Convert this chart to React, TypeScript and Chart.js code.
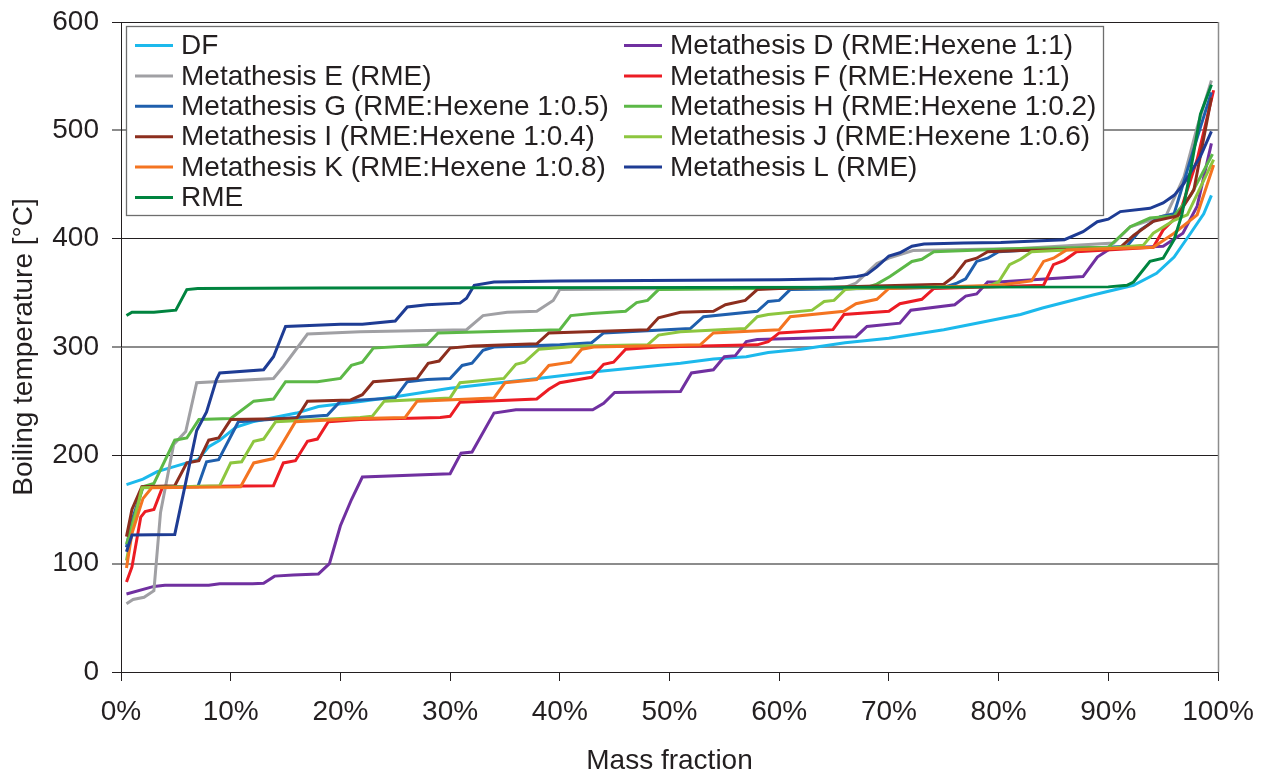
import React, { useEffect, useRef } from "react";
import { Chart, registerables } from "chart.js";

Chart.register(...registerables);

type Pt = [number, number];

// Mass fraction [%], boiling temperature [°C] (breakpoints)
const dfPoints: Pt[] = [
  [0.5, 173], [2, 178], [3.3, 185], [5, 190], [7, 196], [8, 208], [9, 214], [10.5, 226], [12, 231],
  [16, 239], [18, 245], [22, 250], [25, 254], [30, 262], [38, 271], [43, 277], [51, 285], [54, 289],
  [57, 291], [59, 295], [62, 298], [66, 304], [70, 308], [75, 316], [78, 322], [82, 330], [84, 336],
  [88.6, 348], [92.3, 357], [94.4, 368], [96, 383], [97.5, 405], [98.7, 423], [99.4, 440],
];
const metDPoints: Pt[] = [
  [0.5, 72], [3, 79], [4, 80], [8, 80], [9, 81.5], [12, 81.5], [13, 82], [14, 88.5], [15.7, 89.5],
  [18, 90.5], [19, 100], [20, 135], [21, 159], [22, 180], [30, 183], [31, 202], [32, 203], [34, 239],
  [36, 242], [43, 242], [44, 248], [45, 258], [51, 259], [52, 276], [54, 279], [55, 291], [56, 292],
  [57, 305], [58, 307], [67, 309.5], [68, 319], [71, 322], [72, 334], [76, 339], [77, 347], [78, 349],
  [79, 360], [80, 360], [87.7, 365], [89, 383], [90.2, 391], [95, 393], [96.8, 405], [98.1, 430], [99.4, 488],
];
const metEPoints: Pt[] = [
  [0.5, 63], [1.1, 67], [2.1, 69], [3, 75], [3.6, 147], [4.8, 210], [5.9, 222], [6.9, 267], [13.9, 271],
  [14.8, 282], [17, 312], [21.8, 314], [31.5, 316], [33, 329], [35.2, 332], [37.9, 333], [39.4, 343],
  [40, 353], [66, 355], [67, 359], [68.9, 377], [70, 382], [72.2, 389], [82, 391], [90.5, 396], [92, 411],
  [95.3, 422], [96.9, 457], [98.1, 503], [99.4, 546],
];
const metFPoints: Pt[] = [
  [0.5, 83], [1, 97], [1.8, 143], [2.2, 148], [3, 150], [3.8, 171], [13.9, 172], [14.8, 193], [15.9, 195],
  [17, 213], [17.9, 215], [18.9, 231], [21.8, 233], [29.1, 235], [30, 236], [30.9, 249], [37.9, 252],
  [39, 261], [40, 267], [42.9, 272], [44, 284], [44.9, 286], [46, 298], [49, 300], [58, 302], [59, 305],
  [60, 313], [64.9, 316], [65.9, 330], [70, 333], [71, 340], [73, 344], [74.1, 354], [84.1, 357], [85, 376],
  [86, 380], [87.1, 388], [94.1, 392], [95, 408], [96.5, 423], [98.1, 473], [99.6, 537],
];
const metGPoints: Pt[] = [
  [0.5, 115], [1, 140], [2, 171], [7, 171], [7.8, 194], [8.9, 196], [10.7, 231], [18.8, 237], [20, 250],
  [25, 253], [26.1, 268], [27.9, 270], [30, 271], [31.1, 283], [32, 285], [33, 297], [34, 300], [40, 302],
  [42.9, 304], [44, 313], [51.9, 317], [53.1, 328], [58, 333], [59, 342], [60, 343], [61, 353], [75, 355],
  [76.2, 359], [77, 363], [78, 379], [79, 382], [80, 388], [82, 389], [90, 392], [91.7, 393], [92.9, 408],
  [94.7, 420], [96, 423], [97.2, 463], [98.4, 503], [99.4, 535],
];
const metHPoints: Pt[] = [
  [0.5, 118], [2, 171], [3, 174], [4.9, 214], [6, 216], [7.1, 233], [10, 234], [12.1, 250], [13.9, 252],
  [15, 268], [17.9, 268], [20, 271], [21, 283], [22, 286], [23, 299], [27.9, 302], [28.9, 313], [40, 316],
  [41, 329], [42.9, 331], [46, 333], [47, 341], [48, 343], [49, 353], [68, 355], [68.9, 358], [70.1, 365],
  [72.1, 379], [73, 381], [74.1, 388], [82, 391], [90, 392], [92, 411], [93.8, 419], [96, 421], [97.5, 440],
  [99.5, 478],
];
const metIPoints: Pt[] = [
  [0.5, 125], [1, 150], [1.9, 171], [4.9, 172], [6, 193], [7.1, 195], [8, 214], [8.9, 216], [10, 233],
  [16, 234], [17, 250], [20.9, 251], [22, 256], [23, 268], [27, 271], [28, 285], [29, 287], [30, 299],
  [32.1, 301], [37.9, 303], [39, 313], [48, 316], [49, 327], [51, 332], [54, 333], [55.1, 339], [56.9, 343],
  [58, 353], [60, 354], [75, 358], [75.9, 365], [77, 379], [78, 382], [79, 388], [82, 389], [91, 391],
  [92.3, 403], [94.1, 416], [96.3, 421], [97.8, 445], [99.4, 530],
];
const metJPoints: Pt[] = [
  [0.5, 103], [1, 130], [1.9, 170], [9, 172], [10, 193], [11, 194], [12.1, 213], [13, 215], [14.1, 231],
  [21.8, 235], [22.9, 236], [24, 250], [30, 253], [30.9, 267], [34.9, 271], [36, 284], [36.8, 286],
  [38.1, 298], [41.9, 301], [48, 302], [49, 311], [51, 314], [56.9, 317], [58, 328], [59, 330], [63, 334],
  [64.1, 342], [65, 343], [66, 353], [67, 354], [79, 356], [80, 360], [81, 376], [82, 381], [83, 388],
  [90.2, 391.5], [93.2, 394], [94.1, 405], [96, 417], [97.2, 422], [99.6, 473],
];
const metKPoints: Pt[] = [
  [0.5, 96], [1, 128], [2, 160], [2.8, 170], [10.9, 171], [12.1, 193], [13.9, 197], [15.9, 231], [21.8, 234],
  [25.9, 235], [27, 250], [34, 253], [35, 267], [37.9, 270], [39, 283], [41, 286], [42, 298], [43.1, 300],
  [52.8, 302], [54, 313], [60, 316], [61, 328], [65.9, 333], [67, 340], [68.9, 344], [70, 354], [80, 357],
  [83, 361], [84.1, 379], [85, 382], [86.2, 389.5], [94.1, 392], [96, 405], [98.1, 422], [99.6, 468],
];
const metLPoints: Pt[] = [
  [0.5, 111], [1, 126.5], [4.9, 127], [6.9, 223], [7.8, 240], [8.7, 270], [9, 276], [13, 279], [13.9, 291],
  [15, 319], [20, 321], [22, 321], [25, 324], [26.1, 337], [27.9, 339], [30.9, 340.5], [31.5, 345],
  [32.2, 357], [34, 360], [40, 361], [60, 362], [65, 363], [67.1, 365], [68, 367], [68.9, 374], [70, 384],
  [71, 387], [72.1, 393], [73.2, 395], [76.8, 396], [80.2, 396.5], [86, 399], [87.7, 406.5], [89, 415.6],
  [90, 418], [91.1, 425], [93.8, 428], [95, 433], [96, 440], [96.9, 451], [98.4, 476], [99.4, 499],
];
const rmePoints: Pt[] = [
  [0.5, 329], [1, 332], [3, 332], [5, 334], [6, 353], [7, 354], [18, 354.5], [90, 355.5], [91.7, 357],
  [92.3, 360], [93.8, 379], [95, 382], [96, 399], [96.7, 422], [97.5, 463], [98.4, 515], [99.4, 542],
];

const seriesLabels = [
  "DF",
  "Metathesis D (RME:Hexene 1:1)",
  "Metathesis E (RME)",
  "Metathesis F (RME:Hexene 1:1)",
  "Metathesis G (RME:Hexene 1:0.5)",
  "Metathesis H (RME:Hexene 1:0.2)",
  "Metathesis I (RME:Hexene 1:0.4)",
  "Metathesis J (RME:Hexene 1:0.6)",
  "Metathesis K (RME:Hexene 1:0.8)",
  "Metathesis L (RME)",
  "RME",
];
const seriesData: Pt[][] = [
  dfPoints, metDPoints, metEPoints, metFPoints, metGPoints, metHPoints,
  metIPoints, metJPoints, metKPoints, metLPoints, rmePoints,
];
const seriesColors = [
  "#1CB9EC", "#7030A0", "#A0A0A4", "#EC1C24", "#1F5FAD", "#5CB847",
  "#8C2E1E", "#8DC63F", "#F47421", "#1E3C94", "#00843F",
];

const xTitle = "Mass fraction";
const yTitle = "Boiling temperature [°C]";

const FONT = "'Liberation Sans', Arial, Helvetica, sans-serif";
const TEXT = "#231F20";
const FS = 28;

export default function App() {
  const ref = useRef<HTMLCanvasElement>(null);

  useEffect(() => {
    if (!ref.current) return;

    const legendPlugin = {
      id: "boxLegend",
      beforeDatasetsDraw(chart: any) {
        const { ctx, chartArea } = chart;
        const L = chartArea.left;
        const T = chartArea.top;
        ctx.save();
        // right frame line
        ctx.strokeStyle = "#8C8C8C";
        ctx.lineWidth = 1.5;
        ctx.beginPath();
        ctx.moveTo(chartArea.right + 0.5, chartArea.top);
        ctx.lineTo(chartArea.right + 0.5, chartArea.bottom);
        ctx.stroke();
        // legend box
        const bx = L + 5.5, by = T + 4.5, bw = 1104 - 127, bh = 215 - 26;
        ctx.fillStyle = "#ffffff";
        ctx.fillRect(bx, by, bw, bh);
        ctx.strokeStyle = "#6E6E6E";
        ctx.lineWidth = 1.3;
        ctx.strokeRect(bx, by, bw, bh);
        ctx.font = `${FS}px ${FONT}`;
        ctx.textBaseline = "middle";
        ctx.textAlign = "left";
        const colSample = [L + 14, L + 503];
        const colText = [L + 60, L + 549];
        seriesLabels.forEach((label, k) => {
          const row = Math.floor(k / 2);
          const col = k % 2;
          const y = T + 23.5 + row * 30.4;
          ctx.strokeStyle = seriesColors[k];
          ctx.lineWidth = 3;
          ctx.beginPath();
          ctx.moveTo(colSample[col], y);
          ctx.lineTo(colSample[col] + 38, y);
          ctx.stroke();
          ctx.fillStyle = TEXT;
          ctx.fillText(label, colText[col], y + 1);
        });
        ctx.restore();
      },
    };

    const chart = new Chart(ref.current, {
      type: "line",
      data: {
        datasets: seriesData.map((pts, i) => ({
          label: seriesLabels[i],
          data: pts.map(([x, y]) => ({ x, y })),
          borderColor: seriesColors[i],
          backgroundColor: seriesColors[i],
          borderWidth: 3,
          pointRadius: 0,
          tension: 0,
          fill: false,
          order: -i,
        })),
      },
      options: {
        responsive: false,
        animation: false,
        events: [],
        layout: { padding: { top: 22, right: 45, left: 0, bottom: 0 } },
        plugins: { legend: { display: false }, tooltip: { enabled: false } },
        scales: {
          x: {
            type: "linear",
            min: 0,
            max: 100,
            afterFit: (s: any) => {
              s.height = 102;
              s.paddingLeft = 0;
              s.paddingRight = 0;
            },
            ticks: {
              stepSize: 10,
              autoSkip: false,
              maxRotation: 0,
              padding: 14,
              color: TEXT,
              font: { family: FONT, size: FS },
              callback: (v: any) => `${v}%`,
            },
            grid: { drawOnChartArea: false, drawTicks: true, tickLength: 9, color: TEXT, lineWidth: 1 },
            border: { display: true, color: TEXT, width: 1 },
            title: {
              display: true,
              text: xTitle,
              color: TEXT,
              font: { family: FONT, size: FS },
              padding: { top: 0, bottom: -4 },
            },
          },
          y: {
            type: "linear",
            min: 0,
            max: 600,
            afterFit: (s: any) => {
              s.width = 121;
              s.paddingTop = 0;
              s.paddingBottom = 0;
            },
            ticks: {
              stepSize: 100,
              padding: 13,
              color: TEXT,
              font: { family: FONT, size: FS },
            },
            grid: {
              drawTicks: true,
              tickLength: 9,
              color: (c: any) => (c.tick && c.tick.value % 200 === 0 ? TEXT : "#8C8C8C"),
              lineWidth: (c: any) => (c.tick && c.tick.value % 200 === 0 ? 1 : 2),
            },
            border: { display: true, color: TEXT, width: 1 },
            title: {
              display: true,
              text: yTitle,
              color: TEXT,
              font: { family: FONT, size: FS },
              padding: { top: 7, bottom: 0 },
            },
          },
        },
      },
      plugins: [legendPlugin],
    } as any);

    return () => chart.destroy();
  }, []);

  return (
    <div style={{ position: "absolute", left: 0, top: 0, width: 1263, height: 774, background: "#ffffff" }}>
      <canvas ref={ref} width={1263} height={774} style={{ display: "block" }} />
    </div>
  );
}
